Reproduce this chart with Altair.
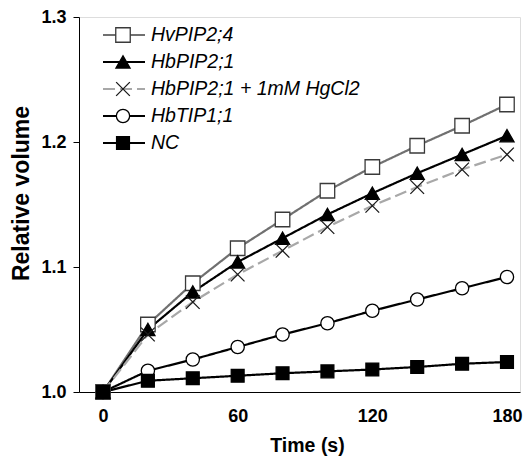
import altair as alt
import pandas as pd

# ---- data ----
time_s = [0, 20, 40, 60, 80, 100, 120, 140, 160, 180]
series_names = ["HvPIP2;4", "HbPIP2;1", "HbPIP2;1 + 1mM HgCl2", "HbTIP1;1", "NC"]
hv_pip2_4 = [1.000, 1.054, 1.087, 1.115, 1.138, 1.161, 1.180, 1.197, 1.213, 1.230]
hb_pip2_1 = [1.000, 1.050, 1.080, 1.104, 1.123, 1.142, 1.159, 1.175, 1.190, 1.205]
hb_pip2_1_hg = [1.000, 1.046, 1.072, 1.094, 1.113, 1.132, 1.149, 1.164, 1.178, 1.190]
hb_tip1_1 = [1.000, 1.017, 1.026, 1.036, 1.046, 1.055, 1.065, 1.074, 1.083, 1.092]
nc = [1.000, 1.009, 1.011, 1.013, 1.015, 1.0165, 1.018, 1.020, 1.0226, 1.024]

x_ticks = [0, 60, 120, 180]
y_ticks = [1.0, 1.1, 1.2, 1.3]

# ---- styles ----
line_colors = ["#707070", "#000000", "#a8a8a8", "#000000", "#000000"]
line_dashes = [[1, 0], [1, 0], [12, 5], [1, 0], [1, 0]]
marker_shapes = ["square", "triangle-up", "M-1,-1L1,1M-1,1L1,-1", "circle", "square"]
marker_fills = ["white", "black", "transparent", "white", "black"]
marker_strokes = ["#3a3a3a", "black", "#1a1a1a", "black", "black"]
marker_sizes = [210, 165, 100, 150, 115]

values_by_series = [hv_pip2_4, hb_pip2_1, hb_pip2_1_hg, hb_tip1_1, nc]
rows = []
for name, vals in zip(series_names, values_by_series):
    for t, v in zip(time_s, vals):
        rows.append({"series": name, "time": t, "value": v})
df = pd.DataFrame(rows)

legend_df = pd.DataFrame({"series": series_names, "i": list(range(len(series_names)))})

FONT = "Liberation Sans"

color_scale = alt.Scale(domain=series_names, range=line_colors)
dash_scale = alt.Scale(domain=series_names, range=line_dashes)
shape_scale = alt.Scale(domain=series_names, range=marker_shapes)
fill_scale = alt.Scale(domain=series_names, range=marker_fills)
stroke_scale = alt.Scale(domain=series_names, range=marker_strokes)
size_scale = alt.Scale(domain=series_names, range=marker_sizes)

x_enc = alt.X(
    "time:Q",
    scale=alt.Scale(domain=[-10.7, 185.8], nice=False, zero=False),
    axis=alt.Axis(
        values=x_ticks, ticks=False, tickSize=0, labelPadding=15,
        labelFont=FONT, labelFontSize=18, labelFontWeight="bold", labelColor="black",
        title="Time (s)", titleFont=FONT, titleFontSize=19.5, titleFontWeight="bold",
        titleColor="black", titleX=228, titleY=53, titleBaseline="middle",
        domainColor="black", grid=False,
    ),
)
y_enc = alt.Y(
    "value:Q",
    scale=alt.Scale(domain=[1.0, 1.3], nice=False, zero=False),
    axis=alt.Axis(
        values=y_ticks, format=".1f", tickSize=6, tickColor="black", labelPadding=7,
        labelFont=FONT, labelFontSize=18, labelFontWeight="bold", labelColor="black",
        title="Relative volume", titleFont=FONT, titleFontSize=23, titleFontWeight="bold",
        titleColor="black", titleX=-58, titleY=176, titleBaseline="middle", titleAlign="center",
        domainColor="black", grid=False,
    ),
)

lines = alt.Chart(df).mark_line(strokeWidth=2.2).encode(
    x=x_enc, y=y_enc,
    color=alt.Color("series:N", scale=color_scale, legend=None),
    strokeDash=alt.StrokeDash("series:N", scale=dash_scale, legend=None),
    detail="series:N",
)

points = alt.Chart(df).mark_point(filled=True, strokeWidth=1.3, opacity=1).encode(
    x="time:Q", y="value:Q",
    shape=alt.Shape("series:N", scale=shape_scale, legend=None),
    fill=alt.Fill("series:N", scale=fill_scale, legend=None),
    stroke=alt.Stroke("series:N", scale=stroke_scale, legend=None),
    size=alt.Size("series:N", scale=size_scale, legend=None),
)

legend_base = alt.Chart(legend_df).transform_calculate(py="18 + datum.i * 27")

leg_lines = legend_base.mark_rule(strokeWidth=2.2).encode(
    x=alt.value(24), x2=alt.value(66),
    y=alt.Y("py:Q", scale=None, axis=None),
    color=alt.Color("series:N", scale=color_scale, legend=None),
    strokeDash=alt.StrokeDash("series:N", scale=dash_scale, legend=None),
)
leg_points = legend_base.mark_point(filled=True, strokeWidth=1.3, opacity=1).encode(
    x=alt.value(44),
    y=alt.Y("py:Q", scale=None, axis=None),
    shape=alt.Shape("series:N", scale=shape_scale, legend=None),
    fill=alt.Fill("series:N", scale=fill_scale, legend=None),
    stroke=alt.Stroke("series:N", scale=stroke_scale, legend=None),
    size=alt.Size("series:N", scale=size_scale, legend=None),
)
leg_text = legend_base.mark_text(
    align="left", baseline="middle", font=FONT, fontSize=19.5, fontStyle="italic", color="black"
).encode(
    x=alt.value(72),
    y=alt.Y("py:Q", scale=None, axis=None),
    text="series:N",
)

chart = alt.layer(lines, points, leg_lines, leg_points, leg_text).properties(
    width=441, height=375,
    autosize=alt.AutoSizeParams(type="none"),
    padding={"left": 71, "top": 9, "right": 3, "bottom": 65},
).configure_view(stroke="black", strokeWidth=1).configure(background="white")

chart.save("out.html", embed_options={"renderer": "svg", "actions": False})
